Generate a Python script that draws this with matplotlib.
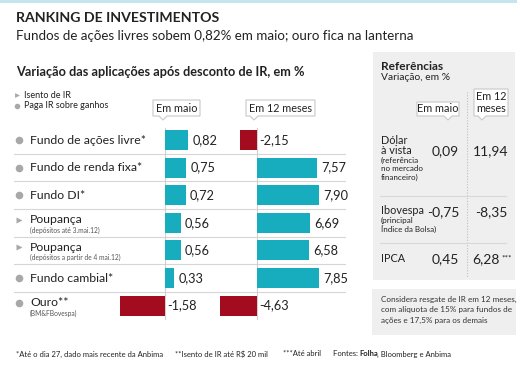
import numpy as np
import matplotlib
matplotlib.use("Agg")
import matplotlib.pyplot as plt
from matplotlib.patches import Rectangle, Polygon

W, H = 520, 367
plt.rcParams['font.family'] = ['Lato', 'DejaVu Sans']

# dados
categorias = ["Fundo de ações livre*", "Fundo de renda fixa*", "Fundo DI*", "Poupança",
              "Poupança", "Fundo cambial*", "Ouro**"]
subtitulos = ["", "", "", "(depósitos até 3.mai.12)", "(depósitos a partir de 4 mai.12)",
              "", "(BM&FBovespa)"]
isento = [False, False, False, True, True, False, False]
em_maio = [0.82, 0.75, 0.72, 0.56, 0.56, 0.33, -1.58]
em_12_meses = [-2.15, 7.57, 7.90, 6.69, 6.58, 7.85, -4.63]

ref_nomes = [["Dólar", "à vista"], ["Ibovespa"], ["IPCA"]]
ref_notas = [["(referência", "no mercado", "financeiro)"], ["(principal", "Índice da Bolsa)"], []]
ref_maio = [0.09, -0.75, 0.45]
ref_12_meses = [11.94, -8.35, 6.28]
ref_sufixo = ["", "", "***"]

TEAL = "#17adbf"
RED = "#a30c1f"
GRAY = "#a8a8a8"
TXT = "#222222"
LINE = "#d6d6d6"

ROW0, STEP = 140, 27.6


def fmt(v):
    return f"{v:.2f}".replace(".", ",")


fig = plt.figure(figsize=(W / 100, H / 100), dpi=100)
bg = fig.add_axes([0, 0, 1, 1])
bg.set_xlim(0, W)
bg.set_ylim(H, 0)
bg.axis('off')


def bar_axes(zero_px, px_unit):
    ax = fig.add_axes([0, 0, 1, 1], facecolor='none')
    ax.set_xlim(-zero_px / px_unit, (W - zero_px) / px_unit)
    ax.set_ylim((H - ROW0) / STEP, -ROW0 / STEP)
    ax.axis('off')
    return ax


def callout(x0, x1, y0, y1, tip, text, fs=7.8):
    pts = [(x0, y0), (x1, y0), (x1, y1), (tip + 4, y1), (tip, y1 + 4), (tip - 4, y1), (x0, y1)]
    bg.add_patch(Polygon(pts, closed=True, fc='white', ec='#c8c8c8', lw=0.8, zorder=3))
    bg.text((x0 + x1) / 2, (y0 + y1) / 2, text, ha='center', va='center', fontsize=fs,
            color=TXT, zorder=4, linespacing=1.0)


# faixa superior
bg.add_patch(Rectangle((0, 0), 517, 3, fc='#c4e4ef', ec='none'))

bg.text(16, 18, "RANKING DE INVESTIMENTOS", fontsize=10.2, fontweight='bold', color=TXT, va='center')
bg.text(16, 36, "Fundos de ações livres sobem 0,82% em maio; ouro fica na lanterna",
        fontsize=9.6, color=TXT, va='center')
bg.text(16, 72, "Variação das aplicações após desconto de IR, em %", fontsize=9.2,
        fontweight='bold', color=TXT, va='center')

# legenda
bg.plot(17, 95, marker='>', ms=3.5, color=GRAY, mec='none')
bg.text(24, 95, "Isento de IR", fontsize=6.5, color=TXT, va='center')
bg.plot(17, 106, marker='o', ms=4, color=GRAY, mec='none')
bg.text(24, 106, "Paga IR sobre ganhos", fontsize=6.5, color=TXT, va='center')

callout(153, 200, 100, 116, 163, "Em maio")
callout(246, 315, 100, 116, 254, "Em 12 meses")

n = len(categorias)
ys = np.arange(n)

# linhas separadoras
for i in range(n - 1):
    y = ROW0 + STEP * (i + 0.5)
    bg.plot([14, 345], [y, y], color=LINE, lw=0.8)

# rótulos das categorias
for i in range(n):
    y = ROW0 + STEP * i
    ym = y - 3 if subtitulos[i] else y
    bg.text(30, ym, categorias[i], fontsize=8.8, color=TXT, va='center')
    if subtitulos[i]:
        bg.text(30, y + 7.5, subtitulos[i], fontsize=4.8, color='#555555', va='center')
    if isento[i]:
        bg.plot(19, ym, marker='>', ms=5, color=GRAY, mec='none')
    else:
        bg.plot(19, ym, marker='o', ms=5.5, color=GRAY, mec='none')

# barras
for zero_px, scale, vals in [(165, 28.5, em_maio), (257, 7.9, em_12_meses)]:
    ax = bar_axes(zero_px, scale)
    cols = [TEAL if v >= 0 else RED for v in vals]
    ax.plot([0, 0], [-0.45, n - 0.5], color='#d0d0d0', lw=0.8, zorder=1)
    ax.barh(ys, vals, height=0.72, color=cols, zorder=2)
    for yy, v in zip(ys, vals):
        x = v + 4 / scale if v >= 0 else 2 / scale
        ax.text(x, yy, fmt(v), ha='left', va='center', fontsize=9.2, color=TXT)

# painel de referências
bg.add_patch(Rectangle((373, 52), 142, 228, fc='#efefef', ec='none'))
bg.text(381, 66, "Referências", fontsize=8.6, fontweight='bold', color=TXT, va='center')
bg.text(381, 78, "Variação, em %", fontsize=7.4, color=TXT, va='center')
bg.plot([467, 467], [92, 278], color='#c0c0c0', lw=0.8, ls=(0, (1, 1.5)))
callout(417, 459, 102, 116, 448, "Em maio")
callout(474, 508, 89, 116, 482, "Em 12\nmeses")

ref_y = [151, 212, 259]
name_y = [141, 211, 259]
for y in [196, 243]:
    bg.plot([380, 506], [y, y], color='#d8d8d8', lw=0.8)
for i in range(len(ref_nomes)):
    yy = name_y[i]
    for linha in ref_nomes[i]:
        bg.text(381, yy, linha, fontsize=7.8, color=TXT, va='center')
        yy += 9.5
    for linha in ref_notas[i]:
        bg.text(381, yy, linha, fontsize=5.8, color=TXT, va='center')
        yy += 8.5
    bg.text(459, ref_y[i], fmt(ref_maio[i]), fontsize=10, color=TXT, ha='right', va='center')
    xr = 508 if not ref_sufixo[i] else 500
    bg.text(xr, ref_y[i], fmt(ref_12_meses[i]), fontsize=10, color=TXT, ha='right', va='center')
    if ref_sufixo[i]:
        bg.text(501, ref_y[i] - 1, ref_sufixo[i], fontsize=6, color=TXT, ha='left', va='center')

bg.add_patch(Rectangle((372, 289), 144, 46, fc='#efefef', ec='none'))
nota = ["Considera resgate de IR em 12 meses,", "com alíquota de 15% para fundos de",
        "ações e 17,5% para os demais"]
for k, linha in enumerate(nota):
    bg.text(381, 299 + 10.5 * k, linha, fontsize=5.9, color='#333333', va='center')

# rodapé
fy = 354
bg.text(16, fy, "*Até o dia 27, dado mais recente da Anbima", fontsize=5.5, color=TXT, va='center')
bg.text(175, fy, "**Isento de IR até R$ 20 mil", fontsize=5.5, color=TXT, va='center')
bg.text(283, fy, "***Até abril", fontsize=5.5, color=TXT, va='center')
t = bg.text(333, fy, "Fontes: ", fontsize=5.5, color=TXT, va='center')
t2 = bg.annotate("Folha", xycoords=t, xy=(1, 0.5), va='center', fontsize=5.5,
                 fontweight='bold', color=TXT)
bg.annotate(", Bloomberg e Anbima", xy=(1, 0.5), xycoords=t2, xytext=(-1.2, 0),
            textcoords='offset points', va='center', fontsize=5.5, color=TXT)

fig.savefig("out.png", dpi=100)
